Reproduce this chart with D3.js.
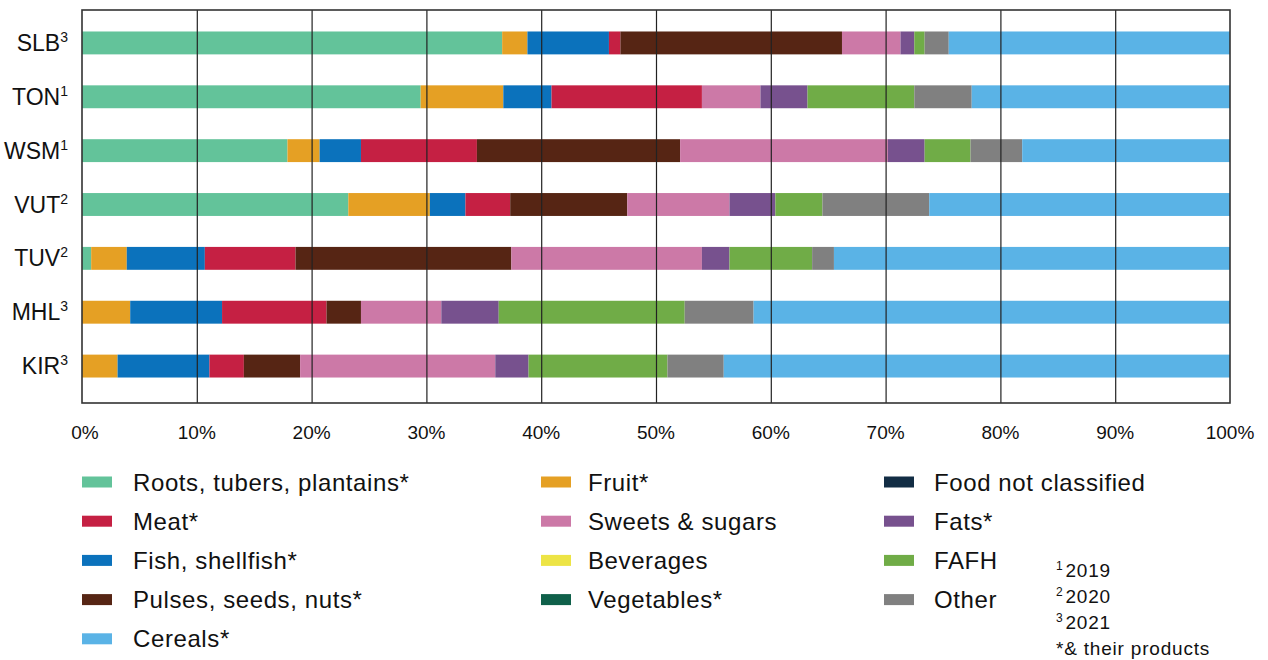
<!DOCTYPE html>
<html>
<head>
<meta charset="utf-8">
<script src="https://cdn.jsdelivr.net/npm/d3@7"></script>
<style>
  body { margin: 0; background: #fff; }
  svg { font-family: "Liberation Sans", Arial, sans-serif; }
</style>
</head>
<body>
<svg width="1268" height="660"></svg>
<script>
// countries, top to bottom, and the year footnote mark
var countries = ["SLB", "TON", "WSM", "VUT", "TUV", "MHL", "KIR"];
var countryNote = ["3", "1", "1", "2", "2", "3", "3"];

// share of food expenditure (%) per group, in stack order
var roots      = [36.6, 29.5, 17.9, 23.2, 0.8, 0, 0];
var fruit      = [2.2, 7.2, 2.8, 7.1, 3.1, 4.2, 3.1];
var fish       = [7.1, 4.2, 3.6, 3.1, 6.8, 8.0, 8.0];
var meat       = [1.0, 13.1, 10.1, 3.9, 7.9, 9.1, 3.0];
var pulses     = [19.3, 0, 17.7, 10.2, 18.8, 3.0, 4.9];
var sweets     = [5.1, 5.1, 18.1, 8.9, 16.6, 7.0, 17.0];
var beverages  = [0, 0, 0, 0, 0, 0, 0];
var vegetables = [0, 0, 0, 0, 0, 0, 0];
var notClass   = [0, 0, 0, 0, 0, 0, 0];
var fats       = [1.2, 4.1, 3.2, 4.0, 2.4, 5.0, 2.9];
var fafh       = [0.9, 9.3, 4.0, 4.1, 7.2, 16.2, 12.1];
var other      = [2.1, 5.0, 4.5, 9.3, 1.9, 6.0, 4.9];
var cereals    = [24.5, 22.5, 18.1, 26.2, 34.5, 41.5, 44.1];

var xTicks = [0, 10, 20, 30, 40, 50, 60, 70, 80, 90, 100];

var series = [
  {key: "roots", label: "Roots, tubers, plantains*", color: "#63c39a", values: roots},
  {key: "fruit", label: "Fruit*", color: "#e5a024", values: fruit},
  {key: "fish", label: "Fish, shellfish*", color: "#0b72bc", values: fish},
  {key: "meat", label: "Meat*", color: "#c52043", values: meat},
  {key: "pulses", label: "Pulses, seeds, nuts*", color: "#562514", values: pulses},
  {key: "sweets", label: "Sweets & sugars", color: "#cc79a7", values: sweets},
  {key: "beverages", label: "Beverages", color: "#ede445", values: beverages},
  {key: "vegetables", label: "Vegetables*", color: "#0f604a", values: vegetables},
  {key: "notclass", label: "Food not classified", color: "#122d44", values: notClass},
  {key: "fats", label: "Fats*", color: "#77518e", values: fats},
  {key: "fafh", label: "FAFH", color: "#70ac47", values: fafh},
  {key: "other", label: "Other", color: "#808080", values: other},
  {key: "cereals", label: "Cereals*", color: "#5ab3e6", values: cereals}
];

// legend columns as in the picture
var legendCols = [
  ["roots", "meat", "fish", "pulses", "cereals"],
  ["fruit", "sweets", "beverages", "vegetables"],
  ["notclass", "fats", "fafh", "other"]
];
var footnotes = [["1", "2019"], ["2", "2020"], ["3", "2021"], ["", "*& their products"]];

var svg = d3.select("svg");
var plotL = 82, plotR = 1230, plotT = 10, plotB = 403;

var table = countries.map(function(c, i) {
  var row = {country: c};
  series.forEach(function(s) { row[s.key] = s.values[i]; });
  return row;
});

var stack = d3.stack().keys(series.map(function(s) { return s.key; }));
var layers = stack(table);

var x = d3.scaleLinear().domain([0, 100]).range([plotL, plotR]);
var y = d3.scaleBand().domain(countries).range([16, 393]).paddingInner(0.575).paddingOuter(0.2875);

var colorOf = {};
series.forEach(function(s) { colorOf[s.key] = s.color; });

// bars
svg.append("g").selectAll("g")
  .data(layers)
  .enter().append("g")
  .attr("fill", function(d) { return colorOf[d.key]; })
  .selectAll("rect")
  .data(function(d) { return d; })
  .enter().append("rect")
  .attr("x", function(d) { return x(d[0]); })
  .attr("width", function(d) { return Math.max(0, x(d[1]) - x(d[0])); })
  .attr("y", function(d) { return y(d.data.country); })
  .attr("height", y.bandwidth());

// vertical gridlines over the bars
svg.append("g").selectAll("line")
  .data(xTicks.slice(1, -1))
  .enter().append("line")
  .attr("x1", function(d) { return x(d) + 0.5; })
  .attr("x2", function(d) { return x(d) + 0.5; })
  .attr("y1", plotT).attr("y2", plotB)
  .attr("stroke", "#222").attr("stroke-width", 1.2);

// frame
svg.append("rect")
  .attr("x", plotL).attr("y", plotT)
  .attr("width", plotR - plotL).attr("height", plotB - plotT)
  .attr("fill", "none").attr("stroke", "#333").attr("stroke-width", 1.6);

// x tick labels
svg.append("g").selectAll("text")
  .data(xTicks)
  .enter().append("text")
  .attr("x", function(d) { return x(d) + (d === 0 ? 3 : 0); })
  .attr("y", 439)
  .attr("text-anchor", "middle")
  .attr("font-size", 19)
  .attr("fill", "#111")
  .text(function(d) { return d + "%"; });

// country labels with superscript year mark
var yl = svg.append("g").selectAll("text")
  .data(countries)
  .enter().append("text")
  .attr("x", 68)
  .attr("y", function(d) { return y(d) + y.bandwidth() / 2 + 8; })
  .attr("text-anchor", "end")
  .attr("font-size", 23)
  .attr("fill", "#111");
yl.append("tspan").text(function(d) { return d; });
yl.append("tspan")
  .attr("font-size", 14)
  .attr("dy", -9)
  .text(function(d, i) { return countryNote[i]; });

// legend
var colX = [[82, 133], [541, 588], [884, 934]];
legendCols.forEach(function(col, ci) {
  var g = svg.append("g");
  var items = g.selectAll("g")
    .data(col)
    .enter().append("g")
    .attr("transform", function(d, i) { return "translate(0," + (482 + i * 39.2) + ")"; });
  items.append("rect")
    .attr("x", colX[ci][0]).attr("y", -5.5)
    .attr("width", 30).attr("height", 11)
    .attr("fill", function(d) { return colorOf[d]; });
  items.append("text")
    .attr("x", colX[ci][1]).attr("y", 8.5)
    .attr("font-size", 24)
    .attr("letter-spacing", 0.6)
    .attr("fill", "#111")
    .text(function(d) { return series.find(function(s) { return s.key === d; }).label; });
});

// footnotes
svg.append("g").selectAll("text")
  .data(footnotes)
  .enter().append("text")
  .attr("x", 1056)
  .attr("y", function(d, i) { return 577 + i * 26; })
  .attr("font-size", 19)
  .attr("letter-spacing", 0.8)
  .attr("fill", "#111")
  .each(function(d) {
    var t = d3.select(this);
    if (d[0]) {
      t.append("tspan").attr("font-size", 12).attr("dy", -7).text(d[0]);
      t.append("tspan").attr("dy", 7).attr("dx", 2).text(d[1]);
    } else {
      t.text(d[1]);
    }
  });
</script>
</body>
</html>
